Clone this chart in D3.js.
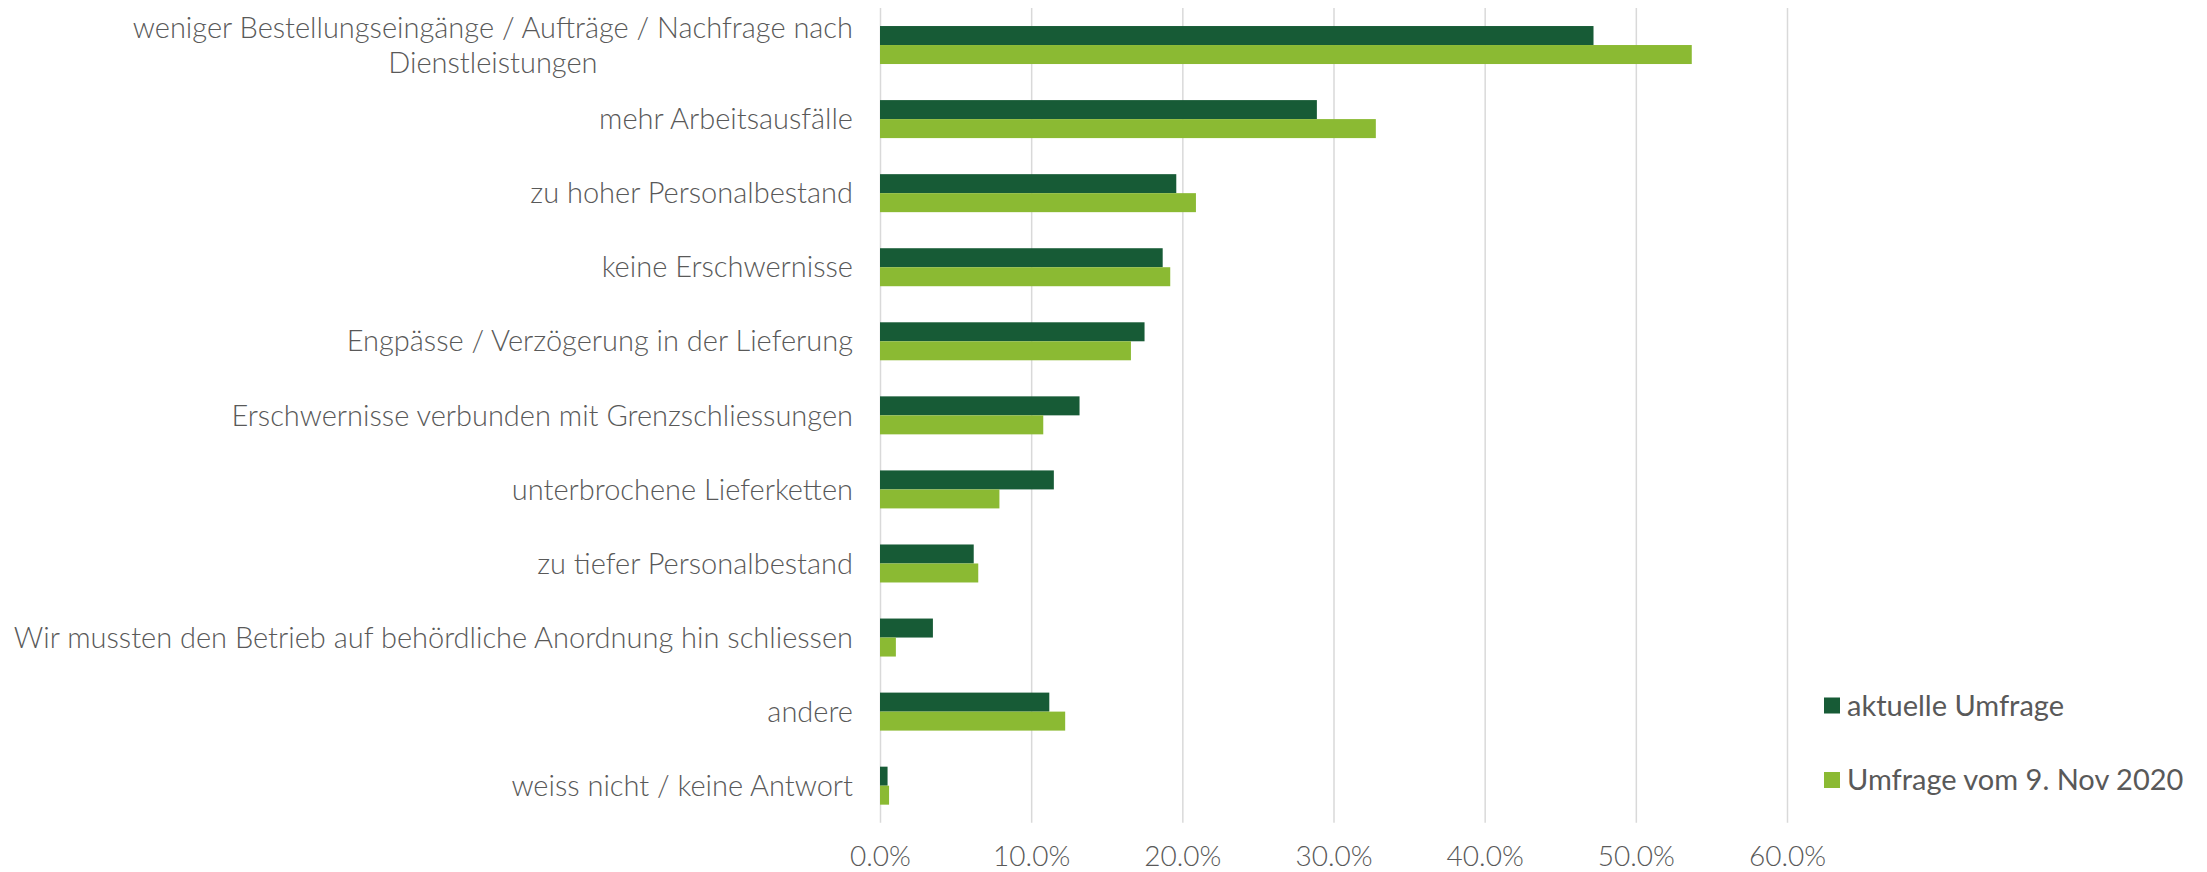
<html>
<head>
<script src="https://d3js.org/d3.v7.min.js"></script>
<style>
body{margin:0;background:#fff;}
text{font-family:Lato,"Open Sans",sans-serif;fill:#595959;}
</style>
</head>
<body>
<svg id="svg" width="2207" height="872"></svg>
<script>
var categories = [
    "weniger Bestellungseingänge / Aufträge / Nachfrage nach\nDienstleistungen",
    "mehr Arbeitsausfälle",
    "zu hoher Personalbestand",
    "keine Erschwernisse",
    "Engpässe / Verzögerung in der Lieferung",
    "Erschwernisse verbunden mit Grenzschliessungen",
    "unterbrochene Lieferketten",
    "zu tiefer Personalbestand",
    "Wir mussten den Betrieb auf behördliche Anordnung hin schliessen",
    "andere",
    "weiss nicht / keine Antwort"
];
var aktuell = [0.472, 0.289, 0.196, 0.187, 0.175, 0.132, 0.115, 0.062, 0.035, 0.112, 0.005];
var nov2020 = [0.537, 0.328, 0.209, 0.192, 0.166, 0.108, 0.079, 0.065, 0.0105, 0.1225, 0.006];
var seriesNames = ["aktuelle Umfrage", "Umfrage vom 9. Nov 2020"];
var seriesColors = ["#175b36", "#8bba33"];
var tickValues = [0, 0.1, 0.2, 0.3, 0.4, 0.5, 0.6];

var svg = d3.select("svg");
var top0 = 8, bottom0 = 822.7;

var x = d3.scaleLinear().domain([0, 0.6]).range([880, 1787]);
var y = d3.scaleBand().domain(categories).range([top0, bottom0])
    .paddingInner(0.487).paddingOuter(0.2435);
var y1 = d3.scaleBand().domain([0, 1]).range([0, y.bandwidth()]);

// gridlines + tick labels
var axis = svg.append("g")
    .attr("transform", "translate(0," + bottom0 + ")")
    .call(d3.axisBottom(x).tickValues(tickValues)
        .tickFormat(d3.format(".1%"))
        .tickSize(-(bottom0 - top0)));
axis.select(".domain").remove();
axis.selectAll("line").attr("stroke", "#d9d9d9").attr("stroke-width", 1.5);
axis.selectAll("text")
    .attr("y", 34).attr("dy", "0.35em")
    .style("font-size", "28px").style("font-weight", 300)
    .attr("fill", "#595959");

// bars
var series = [aktuell, nov2020];
series.forEach(function(vals, s){
    svg.append("g").selectAll("rect").data(categories).enter().append("rect")
        .attr("x", x(0))
        .attr("y", function(d){ return y(d) + y1(s); })
        .attr("width", function(d, i){ return x(vals[i]) - x(0); })
        .attr("height", y1.bandwidth())
        .attr("fill", seriesColors[s]);
});

// category labels
var labelRight = 853;
categories.forEach(function(c){
    var lines = c.split("\n");
    var g = svg.append("g");
    var cy = y(c) + y.bandwidth() / 2;
    var lh = 35;
    var texts = lines.map(function(l, k){
        return g.append("text")
            .attr("y", cy + (k - (lines.length - 1) / 2) * lh)
            .attr("dy", "0.35em")
            .style("font-size", "29px").style("font-weight", 300)
            .text(l);
    });
    if (lines.length == 1) {
        texts[0].attr("x", labelRight).attr("text-anchor", "end");
    } else {
        var w = d3.max(texts, function(t){ return t.node().getComputedTextLength(); });
        texts.forEach(function(t){
            t.attr("x", labelRight - w / 2).attr("text-anchor", "middle");
        });
    }
});

// legend
var legendY = [705.5, 780];
seriesNames.forEach(function(n, s){
    svg.append("rect")
        .attr("x", 1824).attr("y", legendY[s] - 8)
        .attr("width", 16).attr("height", 16)
        .attr("fill", seriesColors[s]);
    svg.append("text")
        .attr("x", 1847).attr("y", legendY[s]).attr("dy", "0.35em")
        .style("font-size", "29px")
        .text(n);
});
</script>
</body>
</html>
